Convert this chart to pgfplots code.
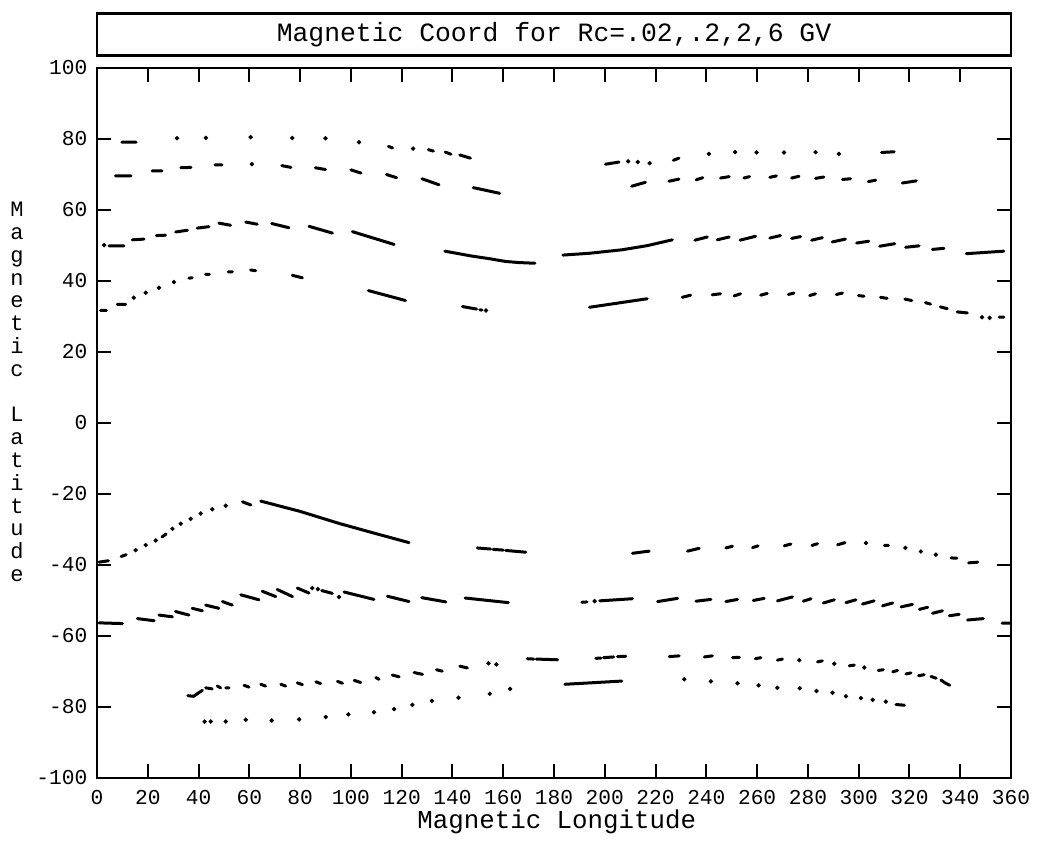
\documentclass[border=0pt]{standalone}
\usepackage{fontspec}
\setmainfont{Liberation Mono}
\usepackage{pgfplots}
\pgfplotsset{compat=1.18}

\begin{document}
\begin{tikzpicture}
\begin{axis}[
  scale only axis,
  width=457pt, height=355pt,
  xmin=0, xmax=360, ymin=-100, ymax=100,
  xtick={0,20,...,360},
  xticklabels={0,20,40,60,80,100,120,140,160,180,200,220,240,260,280,300,320,340,360},
  ytick={-100,-80,...,100},
  yticklabels={-100,-80,-60,-40,-20,0,20,40,60,80,100},
  tick align=inside,
  major tick length=7pt,
  every tick/.style={black, line width=1pt},
  axis line style={line width=1.3pt},
  tick label style={font=\fontsize{10.6}{12}\selectfont},
  xticklabel style={yshift=-2.5pt},
  yticklabel style={xshift=-1.3pt},
  xlabel={Magnetic Longitude},
  xlabel style={font=\fontsize{12.9}{14}\selectfont, at={(axis description cs:0.503,-0.062)}, anchor=center},
  ylabel={\renewcommand\arraystretch{1}\begin{tabular}{@{}c@{}}M\\a\\g\\n\\e\\t\\i\\c\\ \\L\\a\\t\\i\\t\\u\\d\\e\end{tabular}},
  ylabel style={rotate=-90, font=\fontsize{11}{11.4}\selectfont, at={(axis description cs:-0.0875,0.54)}, anchor=center},
  title={Magnetic Coord for Rc=.02,.2,2,6 GV},
  title style={draw, line width=1.3pt, minimum width=457pt, minimum height=21pt, inner sep=0pt,
    at={(axis description cs:0.5,1)}, anchor=south, yshift=-0.5pt, font=\fontsize{13.2}{15}\selectfont},
  unbounded coords=jump,
  cycle list={{black, solid, mark=none}},
  every axis plot/.append style={line width=1.5pt, line cap=round},
  dots/.style={black, only marks, mark=*, mark size=0.9pt, line width=0.4pt},
]
% ---- northern tracks ----
% Rc = 6 GV (top)
\addplot coordinates {(9.8,79.1) (15.4,79.1) (15.4,nan)
 (114.8,77.9) (116.4,77.5) (116.4,nan)
 (130.5,77.0) (132.5,76.6) (132.5,nan)
 (137.2,76.3) (139.4,75.7) (139.4,nan)
 (142.9,75.5) (147.1,74.6) (147.1,nan)
 (200.3,72.9) (205.6,73.5) (205.6,nan)
 (227,74.0) (229.2,74.6) (229.2,nan)
 (309,76.2) (314,76.4)};
\addplot [dots] coordinates {(31.5,80.2) (42.9,80.3) (60.5,80.5) (76.9,80.3) (90,80.2) (103.2,79.1) (124.5,77.3) (209.2,73.7) (213,73.5) (217.7,73.2) (241,75.8) (251.3,76.3) (259.8,76.2) (270.6,76.2) (283,76.3) (292.2,75.8)};
% Rc = 2 GV
\addplot coordinates {(7.3,69.6) (13.4,69.6) (13.4,nan)
 (21.7,71.0) (25.6,71.0) (25.6,nan)
 (33,71.9) (37,72.0) (37,nan)
 (46.5,72.7) (49.2,72.7) (49.2,nan)
 (72.8,72.5) (76.4,72.0) (76.4,nan)
 (86,71.9) (90,71.4) (90,nan)
 (100,71.3) (104,70.4) (104,nan)
 (114,70.0) (118,69.1) (118,nan)
 (128,68.8) (134.7,67.1) (134.7,nan)
 (148.2,66.3) (158.6,64.7) (158.6,nan)
 (210.6,66.7) (216,67.8) (216,nan)
 (225.3,68.1) (229.2,68.7) (229.2,nan)
 (236,68.5) (238.6,69.1) (238.6,nan)
 (245.6,69.0) (249,69.4) (249,nan)
 (254.8,69.0) (257,69.4) (257,nan)
 (265,69.2) (267.6,69.6) (267.6,nan)
 (273.6,69.0) (276.5,69.5) (276.5,nan)
 (283,68.9) (286.3,69.3) (286.3,nan)
 (293.6,68.6) (296.8,68.8) (296.8,nan)
 (303.8,68.0) (306.7,68.4) (306.7,nan)
 (317.2,67.6) (322.7,68.2)};
\addplot [dots] coordinates {(61,72.9)};
% Rc = .2 GV
\addplot coordinates {(4.7,49.9) (10.6,49.9) (10.6,nan)
 (13.9,51.6) (18.5,51.8) (18.5,nan)
 (23.4,52.8) (27,52.9) (27,nan)
 (31,53.8) (35.6,54.3) (35.6,nan)
 (39.5,54.9) (44.1,55.3) (44.1,nan)
 (48,56.3) (52.6,55.7) (52.6,nan)
 (58.6,56.6) (63.1,56.0) (63.1,nan)
 (68.8,56.2) (75.6,55.0) (75.6,nan)
 (83.5,55.4) (92.7,53.5) (92.7,nan)
 (100.6,53.9) (117,50.3) (117,nan)
 (137,48.4) (147.8,47.0) (154.4,46.3) (161,45.5) (166,45.2) (172.5,45.0) (172.5,nan)
 (183.5,47.3) (193.8,47.8) (206.9,48.8) (217,50.0) (226.6,51.6) (226.6,nan)
 (235.5,51.5) (240.4,52.4) (240.4,nan)
 (244.3,51.6) (249,52.4) (249,nan)
 (253.3,51.5) (259.4,52.6) (259.4,nan)
 (265,52.1) (269.2,52.8) (269.2,nan)
 (273.6,52.0) (277.1,52.5) (277.1,nan)
 (281.5,51.5) (285.7,52.2) (285.7,nan)
 (289.6,51.0) (294.8,51.8) (294.8,nan)
 (299.2,50.7) (304,51.2) (304,nan)
 (308.3,49.8) (314.2,50.5) (314.2,nan)
 (318.5,49.5) (323.8,49.9) (323.8,nan)
 (329,48.9) (333.6,49.2) (333.6,nan)
 (342.4,47.7) (357.2,48.4)};
\addplot [dots] coordinates {(2.8,50.1)};
% Rc = .02 GV
\addplot coordinates {(1.4,31.7) (3.7,31.7) (3.7,nan)
 (8,33.4) (11.3,33.4) (11.3,nan)
 (36.2,40.8) (37.5,40.9) (37.5,nan)
 (42.8,41.9) (44.3,41.9) (44.3,nan)
 (51.7,42.6) (53.3,42.6) (53.3,nan)
 (60.5,43.1) (62.5,42.9) (62.5,nan)
 (76.9,41.6) (80.9,40.9) (80.9,nan)
 (106.9,37.3) (121.5,34.5) (121.5,nan)
 (143.9,32.8) (149.5,32.1) (149.5,nan)
 (150.8,31.9) (151.6,31.8) (151.6,nan)
 (194,32.6) (216.7,35.0) (216.7,nan)
 (230.5,35.4) (233.8,36.0) (233.8,nan)
 (242.3,36.1) (245.6,36.4) (245.6,nan)
 (250.9,35.8) (253.5,36.4) (253.5,nan)
 (261.4,36.0) (264,36.5) (264,nan)
 (272.3,36.2) (274.5,36.6) (274.5,nan)
 (280.7,35.9) (283,36.4) (283,nan)
 (291.2,36.2) (293.6,36.6) (293.6,nan)
 (299.9,35.9) (302.1,35.7) (302.1,nan)
 (308.6,35.4) (311.2,35.1) (311.2,nan)
 (318.2,34.9) (320.9,34.5) (320.9,nan)
 (326.3,33.9) (328.3,33.5) (328.3,nan)
 (332.2,32.7) (334.9,32.2) (334.9,nan)
 (338.8,31.3) (342.8,31.0) (342.8,nan)
 (355.3,29.8) (357.2,29.8)};
\addplot [dots] coordinates {(14.5,35.3) (19.2,36.7) (24.4,38.1) (30.3,39.7) (153.2,31.7) (348.6,29.8) (351.6,29.6)};
% ---- southern tracks ----
% Rc = .02 GV
\addplot coordinates {(0.8,-39.2) (4.5,-38.8) (4.5,nan)
 (9.5,-37.6) (11.5,-37.1) (11.5,nan)
 (25.6,-32.1) (27.2,-31.3) (27.2,nan)
 (57.3,-22.2) (60.6,-23.1) (60.6,nan)
 (64.5,-22.0) (80,-24.9) (95.4,-28.3) (108.5,-30.9) (122.9,-33.7) (122.9,nan)
 (149.8,-35.2) (155,-35.5) (155,nan)
 (156,-35.6) (160,-35.8) (160,nan)
 (161,-35.9) (168.9,-36.4) (168.9,nan)
 (210.9,-36.7) (217.5,-36.1) (217.5,nan)
 (232.6,-36.1) (237.2,-35.3) (237.2,nan)
 (247.7,-35.2) (250.3,-34.7) (250.3,nan)
 (258.2,-35.1) (260.4,-34.6) (260.4,nan)
 (270.7,-34.6) (273.3,-34.1) (273.3,nan)
 (281.6,-34.5) (283.8,-34.0) (283.8,nan)
 (291.7,-34.3) (294.6,-33.7) (294.6,nan)
 (310.1,-34.5) (311.8,-34.5) (311.8,nan)
 (336.4,-38.0) (338.7,-38.1) (338.7,nan)
 (343.3,-39.4) (346.9,-39.2)};
\addplot [dots] coordinates {(15.2,-35.8) (19.2,-34.4) (23.1,-33.1) (29.7,-29.8) (33,-28.4) (36.9,-27.0) (40.9,-25.5) (45.4,-24.3) (50.7,-23.3) (302.9,-33.8) (318.4,-35.2) (324.5,-36.2) (330.4,-37.1)};
% Rc = .2 GV
\addplot coordinates {(0.8,-56.3) (10,-56.5) (10,nan)
 (15.9,-55.1) (22.5,-55.7) (22.5,nan)
 (24.4,-54.1) (29.7,-54.6) (29.7,nan)
 (30.9,-53.1) (36.2,-54.1) (36.2,nan)
 (37.5,-52.2) (41.5,-52.9) (41.5,nan)
 (42.8,-51.3) (48,-52.2) (48,nan)
 (49.4,-50.3) (53.3,-51.3) (53.3,nan)
 (56.6,-48.4) (63.8,-49.8) (63.8,nan)
 (65.1,-47.4) (70.4,-48.9) (70.4,nan)
 (71,-46.9) (77,-48.9) (77,nan)
 (78.9,-46.5) (83.5,-47.9) (83.5,nan)
 (88.5,-47.2) (92.7,-48.0) (92.7,nan)
 (97.3,-47.6) (109.1,-49.7) (109.1,nan)
 (114.4,-48.8) (122.9,-50.3) (122.9,nan)
 (127.9,-49.2) (137.4,-50.4) (137.4,nan)
 (145,-49.3) (162,-50.6) (162,nan)
 (191,-50.5) (193,-50.4) (193,nan)
 (198,-50.1) (210.9,-49.5) (210.9,nan)
 (220.8,-50.3) (228.7,-49.4) (228.7,nan)
 (235.9,-50.2) (241.8,-49.7) (241.8,nan)
 (247.7,-50.3) (252.3,-49.7) (252.3,nan)
 (258.5,-50.0) (262.8,-49.4) (262.8,nan)
 (268,-50.1) (273.9,-49.0) (273.9,nan)
 (278.2,-50.2) (281.2,-49.5) (281.2,nan)
 (286.1,-50.7) (290.4,-49.8) (290.4,nan)
 (295,-50.6) (298.9,-49.8) (298.9,nan)
 (301.5,-51.0) (306.1,-50.1) (306.1,nan)
 (309.4,-51.5) (313.4,-50.7) (313.4,nan)
 (316.7,-51.8) (321.2,-51.1) (321.2,nan)
 (323.9,-52.5) (327.2,-51.9) (327.2,nan)
 (329.1,-53.6) (333,-52.9) (333,nan)
 (335.7,-54.3) (339.6,-53.9) (339.6,nan)
 (342.9,-55.5) (349.1,-55.1) (349.1,nan)
 (356.5,-56.4) (359.5,-56.4)};
\addplot [dots] coordinates {(84.8,-46.5) (87,-46.8) (95.3,-49.0) (196,-50.2)};
% Rc = 2 GV
\addplot coordinates {(35.8,-76.8) (38,-77.0) (41.5,-75.3) (41.5,nan)
 (42.8,-74.6) (45.4,-74.9) (45.4,nan)
 (47.4,-74.1) (48.7,-74.6) (48.7,nan)
 (50.7,-74.6) (52,-74.6) (52,nan)
 (57.9,-73.9) (59.9,-74.4) (59.9,nan)
 (64.5,-73.6) (66.4,-74.1) (66.4,nan)
 (72.4,-73.6) (74.3,-74.1) (74.3,nan)
 (78.9,-73.2) (80.9,-73.7) (80.9,nan)
 (86.2,-72.9) (88.1,-73.4) (88.1,nan)
 (94.7,-72.8) (96.7,-73.3) (96.7,nan)
 (101.3,-72.5) (103.9,-73.1) (103.9,nan)
 (109.8,-71.7) (111.1,-72.2) (111.1,nan)
 (116.3,-71.0) (119,-71.5) (119,nan)
 (124.9,-70.3) (128.2,-70.8) (128.2,nan)
 (133.7,-69.5) (136,-69.9) (136,nan)
 (142.9,-68.5) (145.9,-69.0) (145.9,nan)
 (169.5,-66.4) (172,-66.5) (172,nan)
 (173,-66.5) (181.4,-66.7) (181.4,nan)
 (196.5,-66.3) (198.5,-66.2) (198.5,nan)
 (199.5,-66.1) (203.5,-65.9) (203.5,nan)
 (205,-65.8) (208.3,-65.7) (208.3,nan)
 (225.4,-65.8) (229.3,-65.6) (229.3,nan)
 (239.2,-65.9) (242.4,-65.6) (242.4,nan)
 (250.3,-66.1) (253,-66.0) (253,nan)
 (259.3,-66.4) (261.5,-66.1) (261.5,nan)
 (268,-66.8) (270,-66.5) (270,nan)
 (283.8,-67.3) (285.7,-67.0) (285.7,nan)
 (296.3,-68.4) (298.3,-68.2) (298.3,nan)
 (307.7,-69.7) (309.7,-69.5) (309.7,nan)
 (313.4,-70.1) (315.3,-69.7) (315.3,nan)
 (318.6,-70.7) (320.6,-70.4) (320.6,nan)
 (323.6,-71.2) (325.8,-70.9) (325.8,nan)
 (328.5,-71.4) (330.5,-71.9) (330.5,nan)
 (332.4,-72.4) (334,-73.2) (335.9,-73.9)};
\addplot [dots] coordinates {(154.2,-67.7) (157.3,-68.0) (276.6,-66.8) (290.4,-67.8) (302.2,-68.9)};
% Rc = 6 GV (bottom)
\addplot coordinates {(184.3,-73.6) (206.7,-72.7) (206.7,nan)
 (314.7,-79.3) (318,-79.5)};
\addplot [dots] coordinates {(42.4,-84.1) (44.8,-84.1) (50.7,-84.1) (58.6,-83.6) (68.8,-83.8) (79.6,-83.5) (90.1,-82.8) (99,-82.1) (109.1,-81.5) (117,-80.6) (124.2,-79.4) (131.9,-78.3) (142.4,-77.4) (154.7,-76.3) (162.7,-74.9) (231.3,-72.2) (241.8,-72.8) (252.3,-73.3) (260.6,-73.9) (268,-74.6) (276.8,-74.7) (283.4,-75.5) (289.7,-76.0) (295,-77.0) (300.9,-77.5) (305.5,-78.0) (310.7,-78.5)};
\coordinate (BL) at (rel axis cs:0,0);
\coordinate (TR) at (rel axis cs:1,1);
\end{axis}
\path ([shift={(-48.5pt,-29.5pt)}]BL) rectangle ([shift={(14pt,34pt)}]TR);
\end{tikzpicture}
\end{document}
